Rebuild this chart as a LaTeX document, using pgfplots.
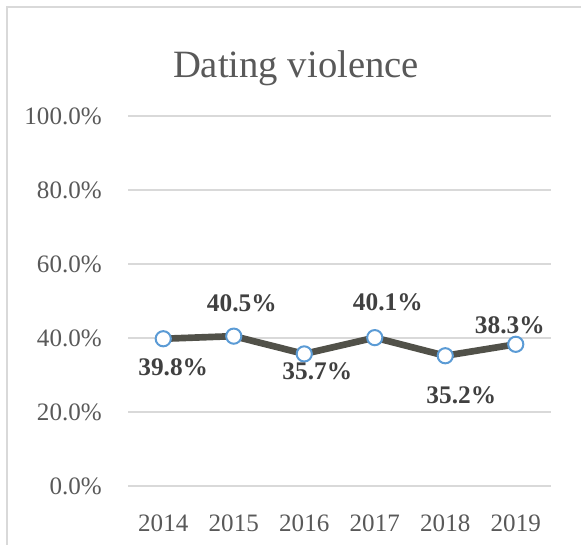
\documentclass[border=0pt]{standalone}
\usepackage{pgfplots}
\pgfplotsset{compat=1.18}
\usepackage{fontspec}
\setmainfont{Liberation Serif}
\definecolor{gridc}{HTML}{D9D9D9}
\definecolor{tickc}{HTML}{595959}
\definecolor{labc}{HTML}{404040}
\definecolor{linec}{HTML}{515149}
\definecolor{markc}{HTML}{5B9BD5}
\begin{document}
\begin{tikzpicture}
\useasboundingbox (0,0) rectangle (435.75pt,408pt);
\draw[gridc, line width=1.1pt] (5.25pt,-2pt) -- (5.25pt,402.75pt) -- (440pt,402.75pt);
\node[anchor=base, text=tickc, font=\fontsize{29}{31}\selectfont] at (222pt,349.5pt) {Dating violence};
\begin{axis}[
  at={(96pt,43.5pt)}, anchor=south west,
  scale only axis, width=317.25pt, height=277.5pt,
  xmin=-0.5, xmax=5.5, ymin=0, ymax=100,
  axis line style={draw=none},
  major tick length=0pt,
  xtick={0,1,2,3,4,5},
  xticklabels={2014,2015,2016,2017,2018,2019},
  ytick={0,20,40,60,80,100},
  yticklabels={0.0\%,20.0\%,40.0\%,60.0\%,80.0\%,100.0\%},
  ymajorgrids, grid style={gridc, line width=1pt},
  xticklabel style={anchor=center, inner sep=0pt, yshift=-27.75pt, text=tickc, font=\fontsize{18.8}{20}\selectfont},
  yticklabel style={anchor=east, inner sep=0pt, xshift=-19.5pt, text=tickc, font=\fontsize{18.8}{20}\selectfont},
  clip=false,
  nodes near coords,
  point meta=explicit symbolic,
  visualization depends on={\thisrow{dx} \as \dx},
  visualization depends on={\thisrow{dy} \as \dy},
  nodes near coords style={anchor=center, inner sep=0pt, xshift=\dx pt, yshift=\dy pt, text=labc, font=\bfseries\fontsize{19}{21}\selectfont},
]
\addplot[linec, line width=5pt, mark=*, mark size=5.7pt, mark options={fill=white, draw=markc, line width=1.5pt}]
  table[x=x, y=y, meta=lab] {
x y dx dy lab
0 39.8 7.5 -21.75 39.8\%
1 40.5 6 24.75 40.5\%
2 35.7 9.75 -12.75 35.7\%
3 40.1 9.75 26.25 40.1\%
4 35.2 12 -29.25 35.2\%
5 38.3 -4.5 14.25 38.3\%
};
\end{axis}
\end{tikzpicture}
\end{document}
